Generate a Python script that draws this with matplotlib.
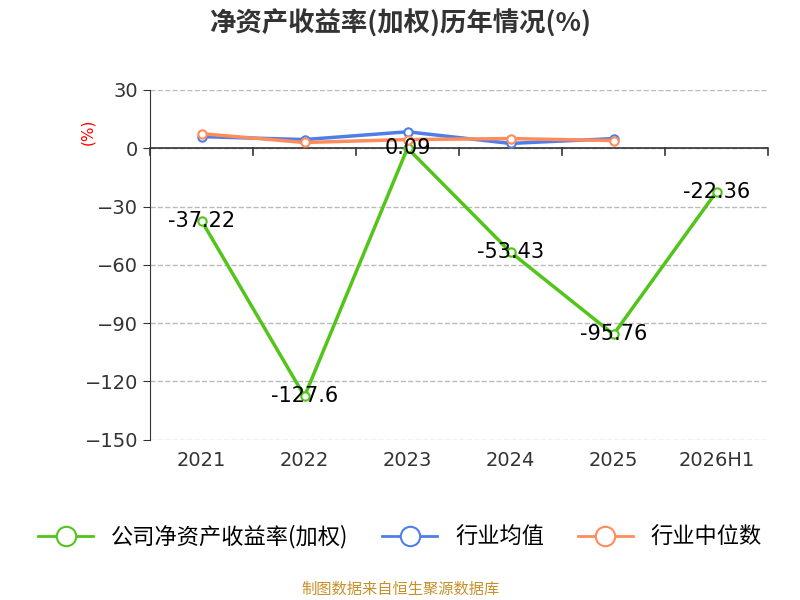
import matplotlib.pyplot as plt

plt.rcParams['font.family'] = ['Noto Sans CJK SC', 'DejaVu Sans']

years = ['2021', '2022', '2023', '2024', '2025', '2026H1']
company = [-37.22, -127.6, 0.09, -53.43, -95.76, -22.36]
company_labels = ['-37.22', '-127.6', '0.09', '-53.43', '-95.76', '-22.36']
industry_avg = [6.0, 4.5, 8.5, 2.5, 5.0]
industry_median = [7.5, 3.0, 4.5, 5.0, 4.0]

fig = plt.figure(figsize=(8, 6), dpi=100)
ax = fig.add_axes([0.1875, 0.267, 0.7725, 0.583])

x = list(range(len(years)))
green = '#52c41a'
blue = '#4e7fe8'
orange = '#ff8c5a'
num_font = ['DejaVu Sans']

ax.plot(x, company, color=green, lw=2.5, marker='o', ms=6, mfc='white', mew=1.5, zorder=3)
ax.plot(x[:5], industry_avg, color=blue, lw=2.5, marker='o', ms=6, mfc='white', mew=1.5, zorder=3)
ax.plot(x[:5], industry_median, color=orange, lw=2.5, marker='o', ms=6, mfc='white', mew=1.5, zorder=3)

for xi, v, s in zip(x, company, company_labels):
    ax.text(xi, v, s, ha='center', va='center', fontsize=15, color='black',
            family=num_font, zorder=4)

ax.set_xlim(-0.5, 5.5)
ax.set_ylim(-150, 30)
ax.set_yticks(range(-150, 31, 30))
ax.tick_params(axis='y', labelsize=14, colors='#333333', length=5)
ax.grid(axis='y', ls='--', color='#bbbbbb', lw=1)
for s in ['top', 'right', 'bottom']:
    ax.spines[s].set_visible(False)
ax.spines['left'].set_color('#333333')
ax.axhline(0, color='#333333', lw=1.2)
for b in [i - 0.5 for i in range(7)]:
    ax.plot([b, b], [0, -3.5], color='#333333', lw=1.2, clip_on=False)
ax.set_xticks(x)
ax.set_xticklabels(years, fontsize=14, color='#333333')
ax.tick_params(axis='x', length=0, pad=8)
for lab in ax.get_xticklabels() + ax.get_yticklabels():
    lab.set_family(num_font)

ax.text(-0.1, 0.88, '(%)', transform=ax.transAxes, rotation=90, color='red',
        fontsize=11, ha='center', va='center', family=num_font)

fig.text(0.5, 0.96, '净资产收益率(加权)历年情况(%)', ha='center', va='center',
         fontsize=19, fontweight='bold', color='#333333')

handles = [plt.Line2D([], [], color=c, lw=2, marker='o', ms=14, mfc='white', mew=1.5)
           for c in (green, blue, orange)]
fig.legend(handles, ['公司净资产收益率(加权)', '行业均值', '行业中位数'],
           loc='center', bbox_to_anchor=(0.5, 0.105), ncol=3, frameon=False,
           fontsize=16, handlelength=2.5, columnspacing=1.5)

fig.text(0.5, 0.018, '制图数据来自恒生聚源数据库', ha='center', va='center',
         fontsize=11, color='#c8902a')

fig.savefig('out.png', dpi=100)
